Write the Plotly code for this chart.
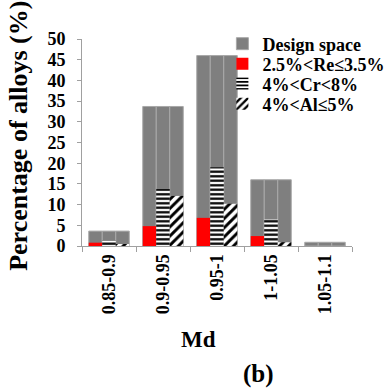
import plotly.graph_objects as go

# Md bins and share of alloys (%) in each bin
categories = ["0.85-0.9", "0.9-0.95", "0.95-1", "1-1.05", "1.05-1.1"]
design_space = [3.6, 33.7, 46.0, 16.0, 0.9]
re_share = [0.8, 4.8, 6.8, 2.4, 0.0]
cr_share = [1.4, 13.8, 19.0, 6.4, 0.0]
al_share = [0.4, 12.1, 10.2, 0.9, 0.0]

FONT = "Liberation Serif"
GRAY = "#7f7f7f"
SUB_W = 0.25
offsets = [-0.375, -0.125, 0.125]

fig = go.Figure()

# Design space drawn as three gray columns behind each subset bar
for i, off in enumerate(offsets):
    fig.add_trace(go.Bar(
        x=categories, y=design_space, name="Design space",
        legend="legend", showlegend=(i == 0),
        offset=off, width=SUB_W,
        marker=dict(color=GRAY, line=dict(color="#a8a8a8", width=1)),
    ))

fig.add_trace(go.Bar(
    x=categories, y=re_share, name="2.5%<Re≤3.5%", legend="legend2",
    offset=offsets[0], width=SUB_W,
    marker=dict(color="#ff0000", line=dict(color="#ff0000", width=0)),
))
fig.add_trace(go.Bar(
    x=categories, y=cr_share, name="4%<Cr<8%", legend="legend3",
    offset=offsets[1], width=SUB_W,
    marker=dict(color="white", line=dict(color="white", width=0),
                pattern=dict(shape="-", fgcolor="black", bgcolor="white",
                             fgopacity=1, size=4.5, solidity=0.5)),
))
fig.add_trace(go.Bar(
    x=categories, y=al_share, name="4%<Al≤5%", legend="legend4",
    offset=offsets[2], width=SUB_W,
    marker=dict(color="white", line=dict(color="white", width=0),
                pattern=dict(shape="/", fgcolor="black", bgcolor="white",
                             fgopacity=1, size=6.5, solidity=0.45)),
))

# One legend box per entry so the rows sit tightly stacked
legend_rows = {"legend": 0.976, "legend2": 0.879, "legend3": 0.783, "legend4": 0.686}
legend_style = dict(x=0.52, xanchor="left", yanchor="middle",
                    bgcolor="rgba(0,0,0,0)", itemwidth=30,
                    font=dict(family=FONT, size=18, weight="bold", color="black"))

fig.update_layout(
    width=389, height=391,
    barmode="overlay",
    plot_bgcolor="white", paper_bgcolor="white",
    margin=dict(l=82, r=37, t=39, b=145, autoexpand=False),
    font=dict(family=FONT, size=17, color="black", weight="bold"),
    showlegend=True,
    **{name: dict(y=yv, **legend_style) for name, yv in legend_rows.items()},
)

fig.update_xaxes(
    type="category", tickangle=-90, tickson="boundaries",
    ticks="outside", ticklen=5, tickcolor="#a0a0a0",
    showline=True, linecolor="#a0a0a0", linewidth=1,
    tickfont=dict(size=18, weight="bold"),
)
fig.update_yaxes(
    range=[0, 50], dtick=5, showgrid=False, zeroline=False,
    ticks="outside", ticklen=4, tickcolor="#a0a0a0", ticklabelstandoff=8,
    showline=True, linecolor="#a0a0a0", linewidth=1,
    tickfont=dict(size=18, weight="bold"),
)

# Axis titles
fig.add_annotation(
    text="Percentage of alloys (%)", xref="paper", yref="paper",
    x=-0.235, y=0.53, textangle=-90, xanchor="center", yanchor="middle",
    showarrow=False, font=dict(size=26, weight="bold"),
)
fig.add_annotation(
    text="Md", xref="paper", yref="paper", x=0.433, y=-0.454,
    xanchor="center", yanchor="middle", showarrow=False,
    font=dict(size=23, weight="bold"),
)

fig.add_annotation(
    text="(b)", xref="paper", yref="paper", x=0.652, y=-0.62,
    xanchor="center", yanchor="middle", showarrow=False,
    font=dict(size=25, weight="bold"),
)

fig.write_html("out.html")
